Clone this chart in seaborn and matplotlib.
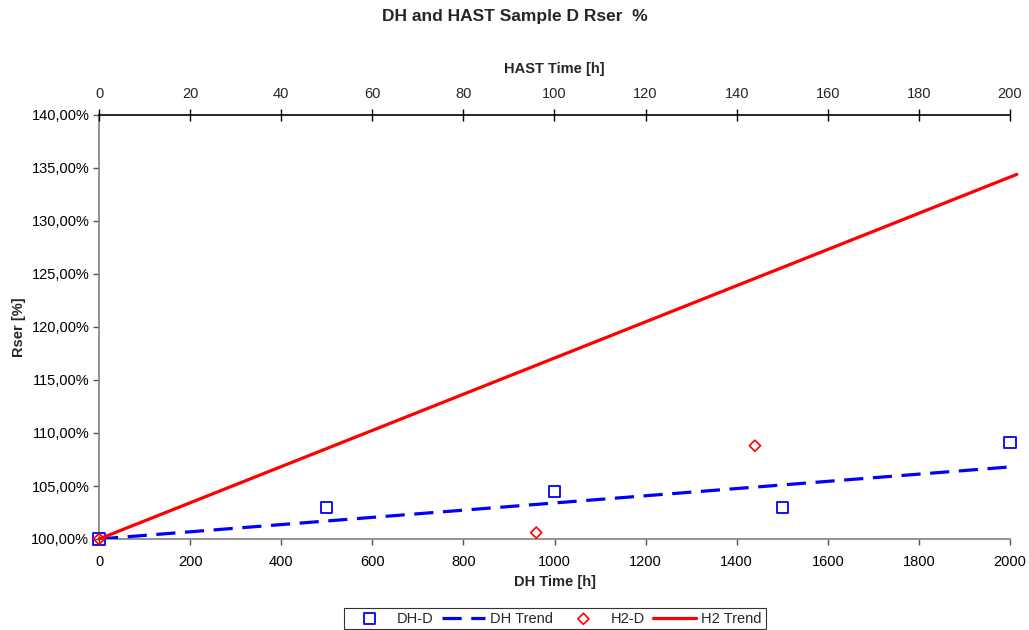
import matplotlib
matplotlib.use("Agg")
import matplotlib.pyplot as plt
from matplotlib.ticker import FuncFormatter, MultipleLocator
import seaborn as sns
import pandas as pd

# Damp-heat (DH) measurements, time in hours, Rser in percent of initial
dh_time = [0, 500, 1000, 1500, 2000]
dh_rser = [100.0, 103.0, 104.5, 103.0, 109.1]

# HAST (H2) measurements, time in hours
h2_time = [0, 96, 144]
h2_rser = [100.0, 100.6, 108.8]

# Linear trend lines (start/end values)
dh_trend_time = [0, 2000]
dh_trend_rser = [100.0, 106.8]
h2_trend_time = [0, 201.5]
h2_trend_rser = [100.0, 134.4]

FS = 10.5

sns.set_style("ticks")
plt.rcParams["font.family"] = ["Liberation Sans", "DejaVu Sans"]
plt.rcParams["font.size"] = FS

fig = plt.figure(figsize=(10.29, 6.30), dpi=100)
ax = fig.add_axes([99 / 1029, 1 - 539 / 630, (1010 - 99) / 1029, (539 - 115) / 630])
ax2 = ax.twiny()

dh = pd.DataFrame({"t": dh_time, "r": dh_rser})
dht = pd.DataFrame({"t": dh_trend_time, "r": dh_trend_rser})
h2 = pd.DataFrame({"t": h2_time, "r": h2_rser})
h2t = pd.DataFrame({"t": h2_trend_time, "r": h2_trend_rser})

sns.lineplot(data=dht, x="t", y="r", ax=ax, color="#0000ff", lw=2.3,
             dashes=False, label="DH Trend", zorder=3)
ax.lines[-1].set_dashes((6, 3))
sns.scatterplot(data=dh, x="t", y="r", ax=ax, marker="s", s=65,
                facecolors="none", edgecolors="#0000ff", linewidths=1.3,
                label="DH-D", zorder=4, clip_on=False)

sns.lineplot(data=h2t, x="t", y="r", ax=ax2, color="#ff0000", lw=2.3,
             label="H2 Trend", zorder=3)
ax2.lines[-1].set_clip_on(False)
sns.scatterplot(data=h2, x="t", y="r", ax=ax2, marker="D", s=32,
                facecolors="none", edgecolors="#ff0000", linewidths=1.2,
                label="H2-D", zorder=4, clip_on=False)

ax.set_xlim(0, 2000)
ax2.set_xlim(0, 200)
ax.set_ylim(100, 140)
ax2.set_ylim(100, 140)

ax.xaxis.set_major_locator(MultipleLocator(200))
ax2.xaxis.set_major_locator(MultipleLocator(20))
ax.yaxis.set_major_locator(MultipleLocator(5))
ax.yaxis.set_major_formatter(FuncFormatter(lambda v, p: f"{v:.2f}".replace(".", ",") + "%"))

for a in (ax, ax2):
    for s in a.spines.values():
        s.set_visible(False)
ax.spines["left"].set_visible(True)
ax.spines["left"].set_color("#808080")
ax.spines["left"].set_linewidth(1.2)
ax.spines["bottom"].set_visible(True)
ax.spines["bottom"].set_color("#808080")
ax.spines["bottom"].set_linewidth(1.2)
ax2.spines["top"].set_visible(True)
ax2.spines["top"].set_color("black")
ax2.spines["top"].set_linewidth(1.2)

ax.tick_params(axis="both", direction="out", length=4, width=1, color="#555555",
               labelsize=FS, labelcolor="black", pad=3)
ax.tick_params(axis="x", pad=7.5)
ax2.tick_params(axis="x", direction="inout", length=8, width=1, color="black",
                labelsize=FS, pad=6)

ax.set_xlabel("DH Time [h]", fontweight="bold", fontsize=FS, labelpad=4)
ax.set_ylabel("Rser [%]", fontweight="bold", fontsize=FS, labelpad=3.5)
ax2.set_xlabel("HAST Time [h]", fontweight="bold", fontsize=FS, labelpad=10)
fig.suptitle("DH and HAST Sample D Rser  %", fontweight="bold", fontsize=12.5,
             y=1 - 17 / 630, va="center")

ax.get_legend().remove() if ax.get_legend() else None
ax2.get_legend().remove() if ax2.get_legend() else None
h1, l1 = ax.get_legend_handles_labels()
h2h, l2 = ax2.get_legend_handles_labels()
hmap = dict(zip(l1 + l2, h1 + h2h))
order = ["DH-D", "DH Trend", "H2-D", "H2 Trend"]
leg = fig.legend([hmap[k] for k in order], order, ncol=4, loc="upper center",
                 bbox_to_anchor=(555 / 1029, 1 - 608 / 630), frameon=True,
                 fancybox=False, edgecolor="black", fontsize=FS,
                 handlelength=3.0, columnspacing=0.55, handletextpad=0.35,
                 borderpad=0.25, borderaxespad=0)
leg.get_frame().set_linewidth(0.8)

fig.savefig("out.png", dpi=100)
